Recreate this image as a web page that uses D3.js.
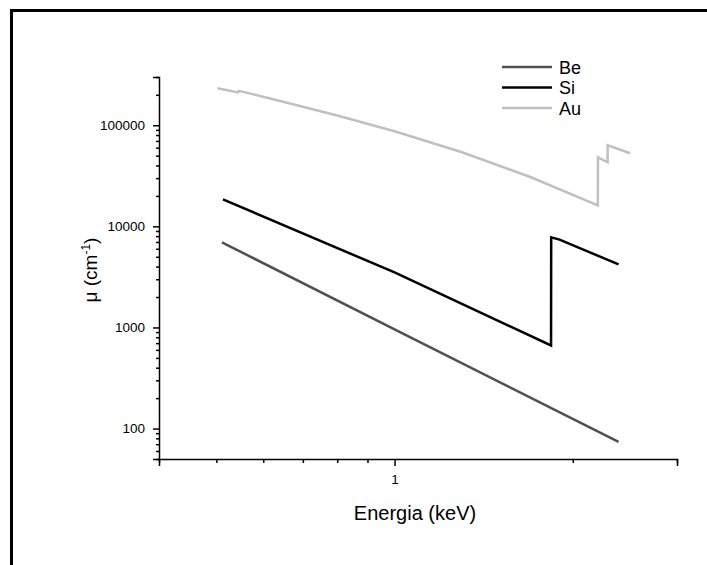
<!DOCTYPE html>
<html>
<head>
<meta charset="utf-8">
<script src="https://cdn.jsdelivr.net/npm/d3@7"></script>
<style>
  body { margin: 0; background: #fff; }
  text { font-family: "Liberation Sans", Arial, sans-serif; }
</style>
</head>
<body>
<script>
// data (energy in keV, mu in cm^-1)
var beE = [0.511, 1.0, 2.39];
var beMu = [6950, 955, 74];

var siE = [0.513, 1.0, 1.838, 1.839, 1.9, 2.39];
var siMu = [18500, 3500, 664, 7790, 7400, 4200];

var auE = [0.502, 0.544, 0.546, 0.641, 0.8, 1.0, 1.3, 1.7, 2.205, 2.206, 2.29, 2.291, 2.5];
var auMu = [232000, 211000, 219000, 174000, 125000, 87200, 54000, 30600, 16100, 48200, 43000, 63400, 52800];

var seriesNames = ["Be", "Si", "Au"];
var seriesColors = ["#505050", "#000000", "#c0c0c0"];

var yMajor = [100, 1000, 10000, 100000];
var yMinor = [50, 60, 70, 80, 90, 200, 300, 400, 500, 600, 700, 800, 900,
  2000, 3000, 4000, 5000, 6000, 7000, 8000, 9000,
  20000, 30000, 40000, 50000, 60000, 70000, 80000, 90000, 200000, 300000];
var xMajor = [1];
var xMinor = [0.4, 0.5, 0.6, 0.7, 0.8, 0.9, 2, 3];

var svgWidth = 707;
var svgHeight = 565;
var Margins = { top: 77, right: 30, bot: 106, left: 159 };
var WidthOfChart = svgWidth - Margins.left - Margins.right;
var HeightOfChart = svgHeight - Margins.top - Margins.bot;

var svg = d3.select("body").append("svg")
  .attr("width", svgWidth)
  .attr("height", svgHeight);

// outer frame (cut by the picture on right and bottom)
svg.append("path")
  .attr("d", "M11.5,600 L11.5,10.5 L720,10.5")
  .attr("fill", "none")
  .attr("stroke", "#000")
  .attr("stroke-width", 3);

var chartGroup = svg.append("g")
  .attr("transform", `translate(${Margins.left}, ${Margins.top})`);

var xAxe = d3.scaleLog().domain([0.4, 3]).range([0, WidthOfChart]);
var yAxe = d3.scaleLog().domain([50, 300000]).range([HeightOfChart, 0]);

// y axis
chartGroup.append("g")
  .attr("class", "axis")
  .call(d3.axisLeft(yAxe).tickValues(yMajor).tickSize(6).tickPadding(8)
    .tickFormat(d3.format("d")));
chartGroup.append("g")
  .attr("class", "axis minor")
  .call(d3.axisLeft(yAxe).tickValues(yMinor).tickSize(3).tickFormat(""));

// x axis
chartGroup.append("g")
  .attr("class", "axis")
  .attr("transform", `translate(0, ${HeightOfChart})`)
  .call(d3.axisBottom(xAxe).tickValues(xMajor).tickSize(7).tickPadding(8)
    .tickFormat(d3.format("d")));
chartGroup.append("g")
  .attr("class", "axis minor")
  .attr("transform", `translate(0, ${HeightOfChart})`)
  .call(d3.axisBottom(xAxe).tickValues(xMinor).tickSize(4).tickFormat(""));

chartGroup.selectAll(".axis path")
  .attr("stroke", "#000").attr("stroke-width", 1.5);
chartGroup.selectAll(".axis.minor path").remove();
chartGroup.selectAll(".axis line")
  .attr("stroke", "#000").attr("stroke-width", 1.5);
chartGroup.selectAll(".axis text")
  .attr("font-size", 13.5).attr("fill", "#000")
  .style("font-family", "'Liberation Sans', Arial, sans-serif");

// curves
var line = d3.line()
  .x(d => xAxe(d[0]))
  .y(d => yAxe(d[1]));

var curves = [
  d3.zip(beE, beMu),
  d3.zip(siE, siMu),
  d3.zip(auE, auMu)
];

// draw Au first so darker lines sit on top
[2, 1, 0].forEach(function(i) {
  chartGroup.append("path")
    .datum(curves[i])
    .attr("d", line)
    .attr("fill", "none")
    .attr("stroke", seriesColors[i])
    .attr("stroke-width", 2.5)
    .attr("stroke-linejoin", "miter");
});

// axis titles
svg.append("text")
  .attr("x", 415)
  .attr("y", 520)
  .attr("text-anchor", "middle")
  .attr("font-size", 20)
  .text("Energia (keV)");

var yTitle = svg.append("text")
  .attr("transform", "translate(97, 270) rotate(-90)")
  .attr("text-anchor", "middle")
  .attr("font-size", 19);
yTitle.append("tspan").text("\u03bc (cm");
yTitle.append("tspan").attr("dy", -7).attr("font-size", 12).text("-1");
yTitle.append("tspan").attr("dy", 7).text(")");

// legend
var legend = svg.append("g");
seriesNames.forEach(function(name, i) {
  var ly = 67 + i * 20.5;
  legend.append("line")
    .attr("x1", 502).attr("x2", 552)
    .attr("y1", ly).attr("y2", ly)
    .attr("stroke", seriesColors[i])
    .attr("stroke-width", 2.5);
  legend.append("text")
    .attr("x", 559)
    .attr("y", ly + 6.5)
    .attr("font-size", 18)
    .text(name);
});
</script>
</body>
</html>
